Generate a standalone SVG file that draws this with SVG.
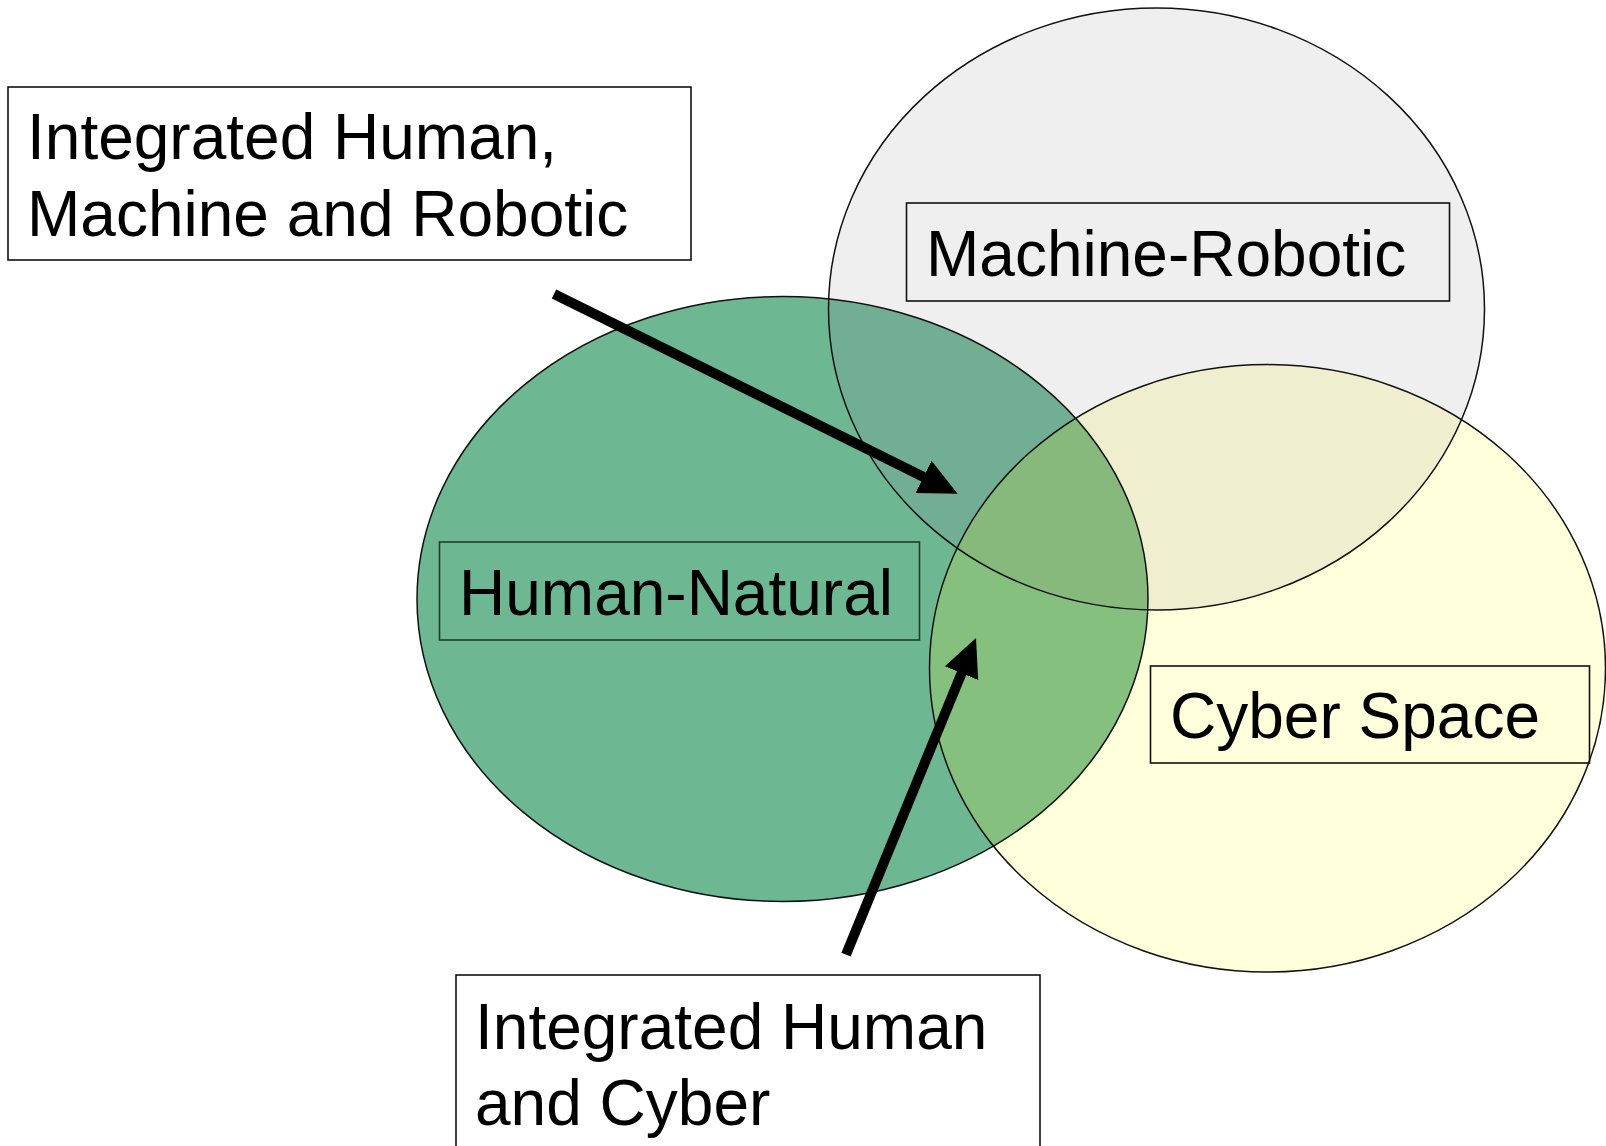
<svg xmlns="http://www.w3.org/2000/svg" width="1606" height="1146" viewBox="0 0 1606 1146">
<style>
.lbl{font-family:"Liberation Sans",Arial,Helvetica,sans-serif;font-size:64px;fill:#000}
.box{fill:none;stroke:#111;stroke-width:1.6}
.ell{fill:none;stroke:#111;stroke-width:1.5}
.arrow{stroke:#000;stroke-width:10;fill:none;marker-end:url(#ah)}
</style>
<defs>
<ellipse id="eGray" cx="1156.5" cy="309" rx="328" ry="301"/>
<ellipse id="eGreen" cx="782.5" cy="599" rx="365.5" ry="302.5"/>
<ellipse id="eYellow" cx="1267.5" cy="668.3" rx="338" ry="303.7"/>
<clipPath id="cGray"><use href="#eGray"/></clipPath>
<clipPath id="cGreen"><use href="#eGreen"/></clipPath>
<clipPath id="cYellow"><use href="#eYellow"/></clipPath>
<marker id="ah" markerUnits="userSpaceOnUse" viewBox="0 -19 40 38" markerWidth="40" markerHeight="38" refX="8" refY="0" orient="auto">
<path d="M0,-18 L38,0 L0,18 z" fill="#000"/>
</marker>
</defs>
<g id="fills">
<use href="#eGray" fill="#efefef"/>
<use href="#eYellow" fill="#ffffdc"/>
<use href="#eGreen" fill="#6db793"/>
<use href="#eGray" fill="#72ae93" clip-path="url(#cGreen)"/>
<use href="#eYellow" fill="#efefcf" clip-path="url(#cGray)"/>
<use href="#eYellow" fill="#85c07f" clip-path="url(#cGreen)"/>
<g clip-path="url(#cGray)"><use href="#eYellow" fill="#88b97c" clip-path="url(#cGreen)"/></g>
</g>
<g id="machine-robotic">
<use href="#eGray" class="ell"/>
<rect class="box" x="906.5" y="203" width="543" height="98"/>
<text class="lbl" x="926" y="276">Machine-Robotic</text>
</g>
<g id="cyber-space">
<use href="#eYellow" class="ell"/>
<rect class="box" x="1150.5" y="666" width="439" height="97"/>
<text class="lbl" x="1170" y="738">Cyber Space</text>
</g>
<g id="human-natural">
<use href="#eGreen" class="ell"/>
<rect class="box" x="439.5" y="542" width="480" height="98" style="stroke:#1f3d2c"/>
<text class="lbl" x="459" y="615">Human-Natural</text>
</g>
<g id="integrated-hmr">
<rect class="box" x="8" y="87" width="683" height="173" style="fill:#fff"/>
<text class="lbl" x="27" y="159">Integrated Human,</text>
<text class="lbl" x="27" y="236">Machine and Robotic</text>
</g>
<g id="integrated-hc">
<rect class="box" x="456" y="975" width="584" height="185" style="fill:#fff"/>
<text class="lbl" x="475" y="1049">Integrated Human</text>
<text class="lbl" x="475" y="1125">and Cyber</text>
</g>
<g id="connectors">
<line class="arrow" x1="554" y1="294" x2="930.7" y2="480.4"/>
<line class="arrow" x1="846" y1="954.6" x2="964.6" y2="665.8"/>
</g>
</svg>
